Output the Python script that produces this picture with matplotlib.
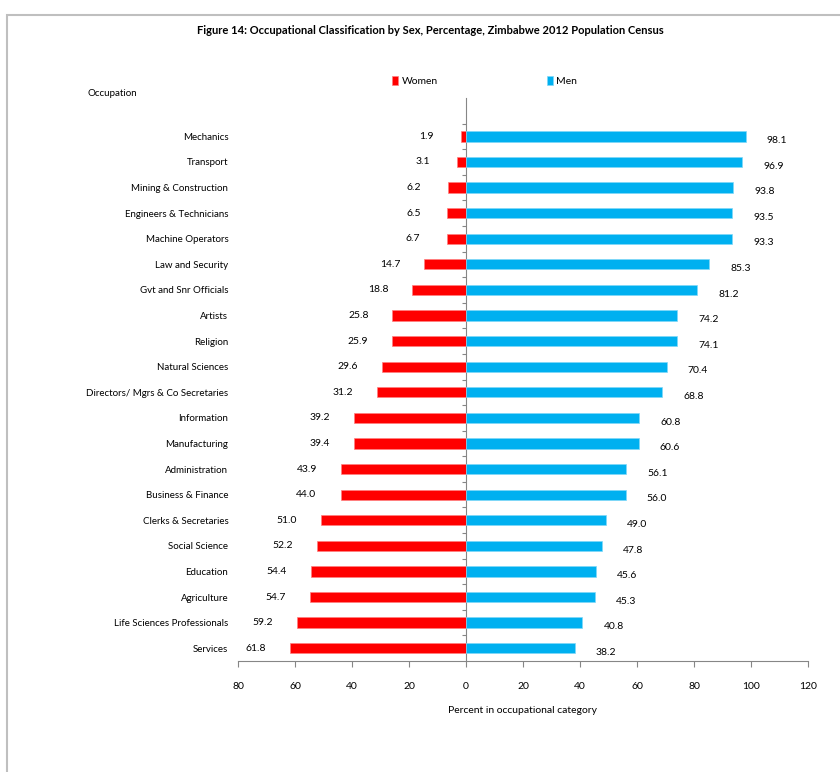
import numpy as np
import matplotlib
matplotlib.use("Agg")
import matplotlib.pyplot as plt
from matplotlib.patches import Rectangle

plt.rcParams['font.family'] = ['Lato', 'DejaVu Sans']

# data, listed bottom to top as drawn
occupations = ["Services", "Life Sciences Professionals", "Agriculture", "Education",
               "Social Science", "Clerks & Secretaries", "Business & Finance",
               "Administration", "Manufacturing", "Information",
               "Directors/ Mgrs & Co Secretaries", "Natural Sciences", "Religion",
               "Artists", "Gvt and Snr Officials", "Law and Security",
               "Machine Operators", "Engineers & Technicians", "Mining & Construction",
               "Transport", "Mechanics"]
women = [61.8, 59.2, 54.7, 54.4, 52.2, 51.0, 44.0, 43.9, 39.4, 39.2, 31.2,
         29.6, 25.9, 25.8, 18.8, 14.7, 6.7, 6.5, 6.2, 3.1, 1.9]
men = [38.2, 40.8, 45.3, 45.6, 47.8, 49.0, 56.0, 56.1, 60.6, 60.8, 68.8,
       70.4, 74.1, 74.2, 81.2, 85.3, 93.3, 93.5, 93.8, 96.9, 98.1]
xticks = [-80, -60, -40, -20, 0, 20, 40, 60, 80, 100, 120]

RED = "#FF0000"
BLUE = "#00B0F0"
GREY = "#868686"

fig = plt.figure(figsize=(8.4, 7.72), dpi=100)
ax = fig.add_axes([238 / 840, 1 - 661 / 772, 570 / 840, 563 / 772])

y = np.arange(len(occupations))
w = -np.array(women)
m = np.array(men)
ax.barh(y, w, height=0.4, color=RED, edgecolor="#ff8080", linewidth=0.5, label="Women")
ax.barh(y, m, height=0.4, color=BLUE, edgecolor="#80d8f8", linewidth=0.5, label="Men")

# value labels, women left of the bar end, men right and a bit lower
for yi, v in zip(y, women):
    ax.text(-v - 12, yi, f"{v:.1f}", ha="center", va="center", fontsize=7.5)
for yi, v in zip(y, men):
    ax.annotate(f"{v:.1f}", (v + 11, yi), xytext=(0, -3), textcoords="offset points",
                ha="center", va="center", fontsize=7.5)

ax.set_xlim(-80, 120)
ax.set_ylim(-0.5, 21.5)
ax.set_xticks(xticks)
ax.set_xticklabels([str(abs(t)) for t in xticks], fontsize=7.5)
ax.tick_params(axis="x", direction="out", length=4, color=GREY, pad=11)
ax.set_yticks(y)
ax.set_yticklabels(occupations, fontsize=7)
ax.tick_params(axis="y", length=0, pad=7)
for s in ["top", "right", "left"]:
    ax.spines[s].set_visible(False)
ax.spines["bottom"].set_color(GREY)

# vertical axis through zero with category separators
sec = ax.secondary_yaxis(0.4)
sec.set_yticks(np.arange(len(occupations)) + 0.5)
sec.set_yticklabels([])
sec.tick_params(direction="out", length=3, color=GREY)
sec.spines["left"].set_color(GREY)
sec.spines["right"].set_visible(False)

ax.set_xlabel("Percent in occupational category", fontsize=7.5, labelpad=11)

fig.text(0.512, 1 - 30 / 772, "Figure 14: Occupational Classification by Sex, Percentage, Zimbabwe 2012 Population Census",
         ha="center", va="center", fontsize=8, fontweight="bold")
fig.text(88 / 840, 1 - 93 / 772, "Occupation", ha="left", va="center", fontsize=7)

fig.legend(handles=ax.get_legend_handles_labels()[0],
           labels=["Women", "Men"], loc="center", bbox_to_anchor=(0.577, 1 - 81 / 772),
           ncol=2, frameon=False, fontsize=7.5, handlelength=0.6, handleheight=0.9,
           handletextpad=0.3, columnspacing=10.5)

# figure border like the source screenshot
fig.add_artist(Rectangle((7 / 840, -0.05), 1.0, 1 - 15 / 772 + 0.05,
                         transform=fig.transFigure, fill=False,
                         edgecolor="#bfbfbf", linewidth=1.5))

fig.savefig("out.png", dpi=100)
